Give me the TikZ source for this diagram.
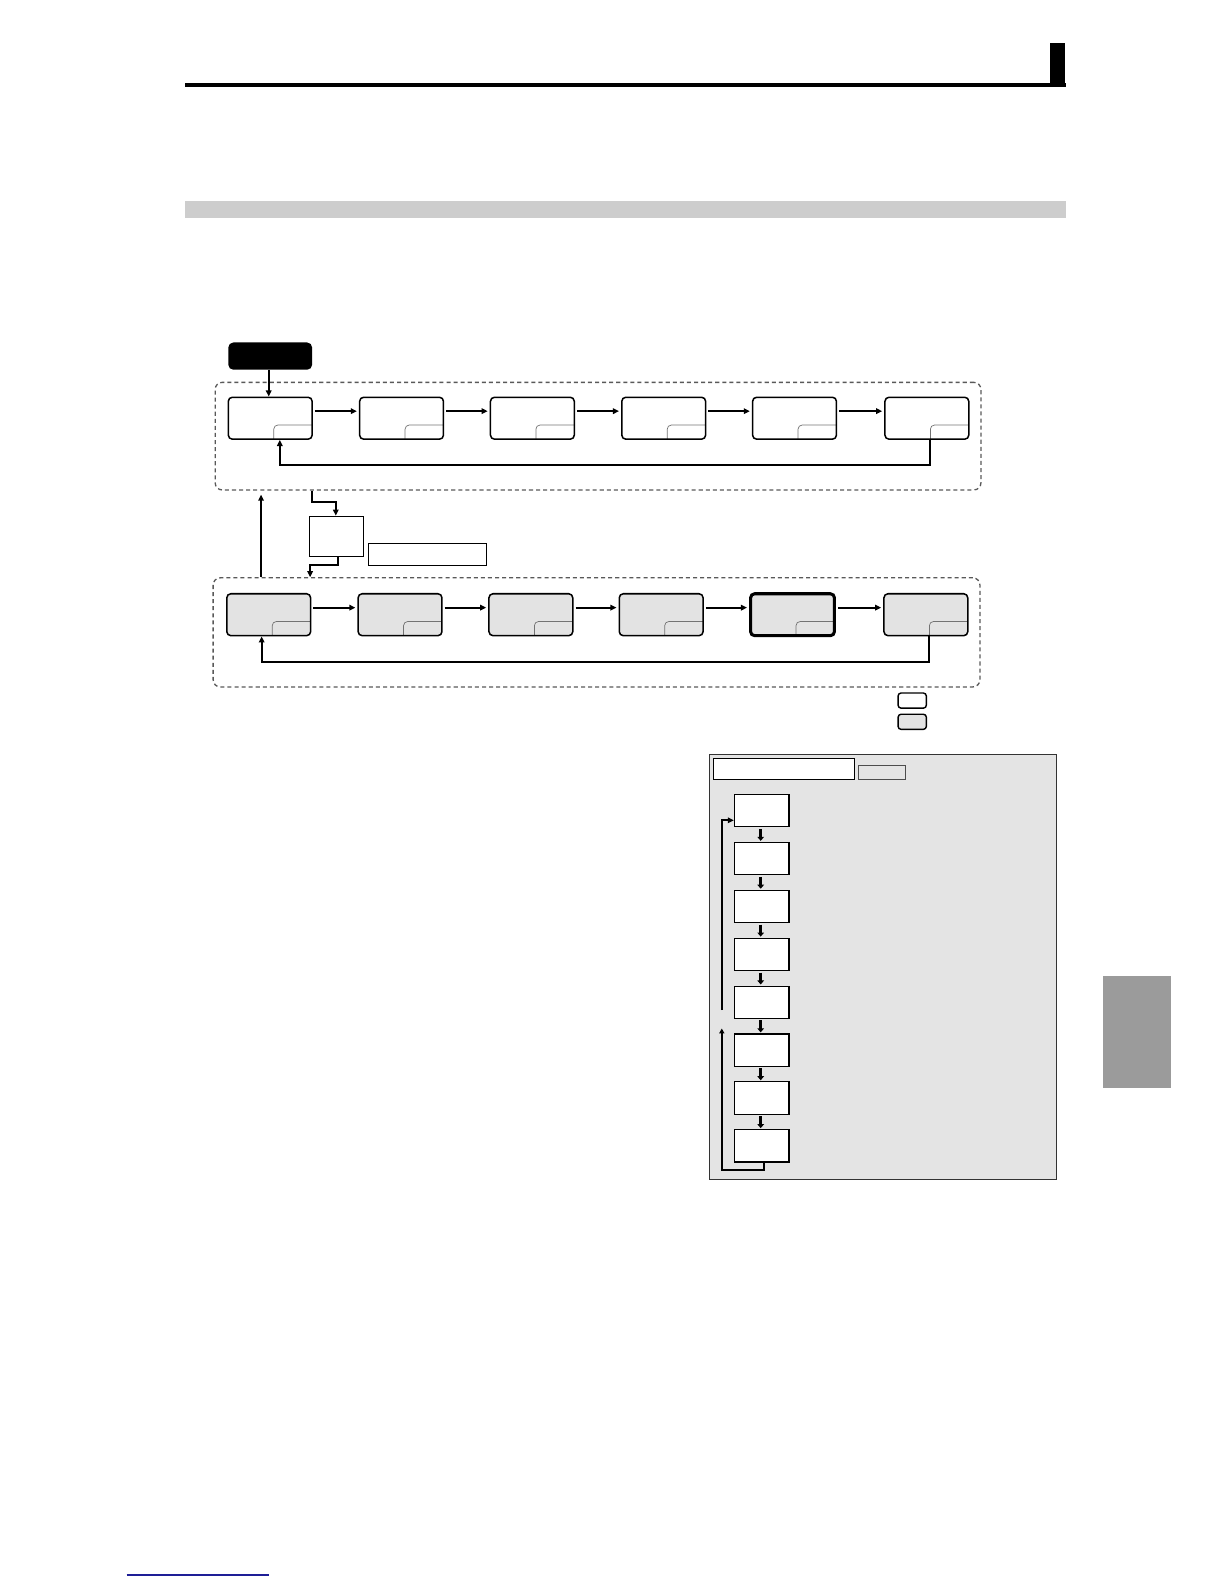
\documentclass[tikz,border=0pt]{standalone}
\usetikzlibrary{arrows.meta}
\definecolor{boxgray}{HTML}{E3E3E3}
\definecolor{panelgray}{HTML}{E4E4E4}
\definecolor{bargray}{HTML}{CDCDCD}
\definecolor{tabgray}{HTML}{9B9B9B}
\definecolor{linkblue}{RGB}{30,30,150}
\begin{document}
\begin{tikzpicture}[x=1pt,y=-1pt,
  stage/.style={draw, line width=1.5pt, rounded corners=4pt, minimum width=83pt, minimum height=41.5pt, inner sep=0pt,
    path picture={\draw[black!55, line width=0.7pt] ([xshift=-38pt]path picture bounding box.south east) |- ([yshift=14pt]path picture bounding box.south east);}},
  lowstage/.style={stage, fill=boxgray},
  region/.style={draw=black!65, dash pattern=on 4pt off 3pt, line width=1.3pt, rounded corners=7pt, inner sep=0pt},
  conn/.style={line width=1.8pt, -{Triangle[length=6pt,width=5.5pt]}},
  fb/.style={line width=2pt, -{Triangle[length=6pt,width=5.5pt]}},
  colbox/.style={draw, line width=1.1pt, fill=white, minimum width=54pt, minimum height=32pt, inner sep=0pt},
  colarr/.style={line width=2.6pt, -{Triangle[length=4pt,width=6.5pt]}},
  legbox/.style={draw, line width=1.4pt, rounded corners=3pt, minimum width=28pt, minimum height=15pt, inner sep=0pt}
]
\useasboundingbox (0,0) rectangle (1212,1568);

% header
\fill (183,82.5) rectangle (1055,86.4);
\fill (1039,42.6) rectangle (1054.5,86.4);
\fill[bargray] (183,199) rectangle (1055,216);
\fill[tabgray] (1092,966) rectangle (1159,1077);
\draw[linkblue, line width=1.2pt] (125.4,1559) -- (266.6,1559);

% dashed regions
\node[region, minimum width=758pt, minimum height=106.5pt] (R1) at (592,431.75) {};
\node[region, minimum width=759pt, minimum height=108pt] (R2) at (590.5,626) {};

% start node
\node[fill=black, rounded corners=5pt, minimum width=83pt, minimum height=27pt, inner sep=0pt] (start) at (267.5,352.5) {};

% upper row
\node[stage] (u1) at (267.5,414) {};
\node[stage] (u2) at (397.5,414) {};
\node[stage] (u3) at (527,414) {};
\node[stage] (u4) at (657,414) {};
\node[stage] (u5) at (786.5,414) {};
\node[stage] (u6) at (917.5,414) {};

% lower row
\node[lowstage] (l1) at (266,608.5) {};
\node[lowstage] (l2) at (396,608.5) {};
\node[lowstage] (l3) at (525.5,608.5) {};
\node[lowstage] (l4) at (654.5,608.5) {};
\node[lowstage, line width=3pt] (l5) at (784.5,608.5) {};
\node[lowstage] (l6) at (916.5,608.5) {};

% middle boxes
\node[draw, line width=1.1pt, minimum width=54pt, minimum height=40pt, inner sep=0pt] (W) at (333,531) {};
\node[draw, line width=1.1pt, minimum width=117pt, minimum height=22pt, inner sep=0pt] (T) at (423.5,549) {};

% legend
\node[legbox] (leg1) at (903,693.5) {};
\node[legbox, fill=boxgray] (leg2) at (903,714.5) {};

% arrows
\draw[conn] (start.south -| 266,0) -- (u1.north -| 266,0);
\foreach \a/\b in {u1/u2,u2/u3,u3/u4,u4/u5,u5/u6}{
  \draw[conn, shorten >=2pt, shorten <=2pt] ([yshift=7pt]\a.east) -- ([yshift=7pt]\b.west);
}
\foreach \a/\b in {l1/l2,l2/l3,l3/l4,l4/l5,l5/l6}{
  \draw[conn, shorten >=2pt, shorten <=2pt] ([yshift=7pt]\a.east) -- ([yshift=7pt]\b.west);
}
\coordinate (fbu) at (277,460);
\draw[fb] ([xshift=-39pt]u6.south east) |- (fbu) -- (fbu |- u1.south);
\coordinate (fbl) at (259,655);
\draw[fb] ([xshift=-39pt]l6.south east) |- (fbl) -- (fbl |- l1.south);

% between regions
\draw[fb, shorten >=4pt] (R2.north -| 258.4,0) -- (R1.south -| 258.4,0);
\coordinate (e1) at (308.6,496.7);
\coordinate (e2) at (332.4,496.7);
\draw[fb] (R1.south -| e1) -- (e1) -- (e2) -- (e2 |- W.north);
\coordinate (e3) at (334.3,559.4);
\coordinate (e4) at (307,559.4);
\draw[fb] (W.south -| e3) -- (e3) -- (e4) -- (e4 |- R2.north);

% right panel
\node[draw=black!80, line width=1pt, fill=panelgray, minimum width=344pt, minimum height=421pt, inner sep=0pt] (P) at (874,957.5) {};
\node[draw, line width=1.1pt, fill=white, minimum width=140pt, minimum height=21pt, inner sep=0pt] (PH) at (776,761.3) {};
\node[draw=black!70, line width=0.8pt, fill=panelgray, minimum width=46pt, minimum height=14pt, inner sep=0pt] (PS) at (873,765) {};

\foreach \i/\y in {1/802.5,2/849.9,3/897.3,4/944.7,5/992.1,6/1039.5,7/1086.9,8/1134.3}{
  \node[colbox] (c\i) at (754,\y) {};
}
\foreach \a/\b in {c1/c2,c2/c3,c3/c4,c4/c5,c5/c6,c6/c7,c7/c8}{
  \draw[colarr, shorten >=1pt, shorten <=1.5pt] (\a.south -| 753,0) -- (\b.north -| 753,0);
}
\coordinate (k1) at (715,1000);
\coordinate (k2) at (715,812);
\draw[fb] (k1) -- (k2) -- (k2 -| c1.west);
\coordinate (k3) at (756,1158.5);
\coordinate (k4) at (714.5,1158.5);
\coordinate (k5) at (714.5,1018);
\draw[line width=1.8pt, -{Triangle[length=5pt,width=5pt]}] (c8.south -| k3) -- (k3) -- (k4) -- (k5);
\end{tikzpicture}
\end{document}
